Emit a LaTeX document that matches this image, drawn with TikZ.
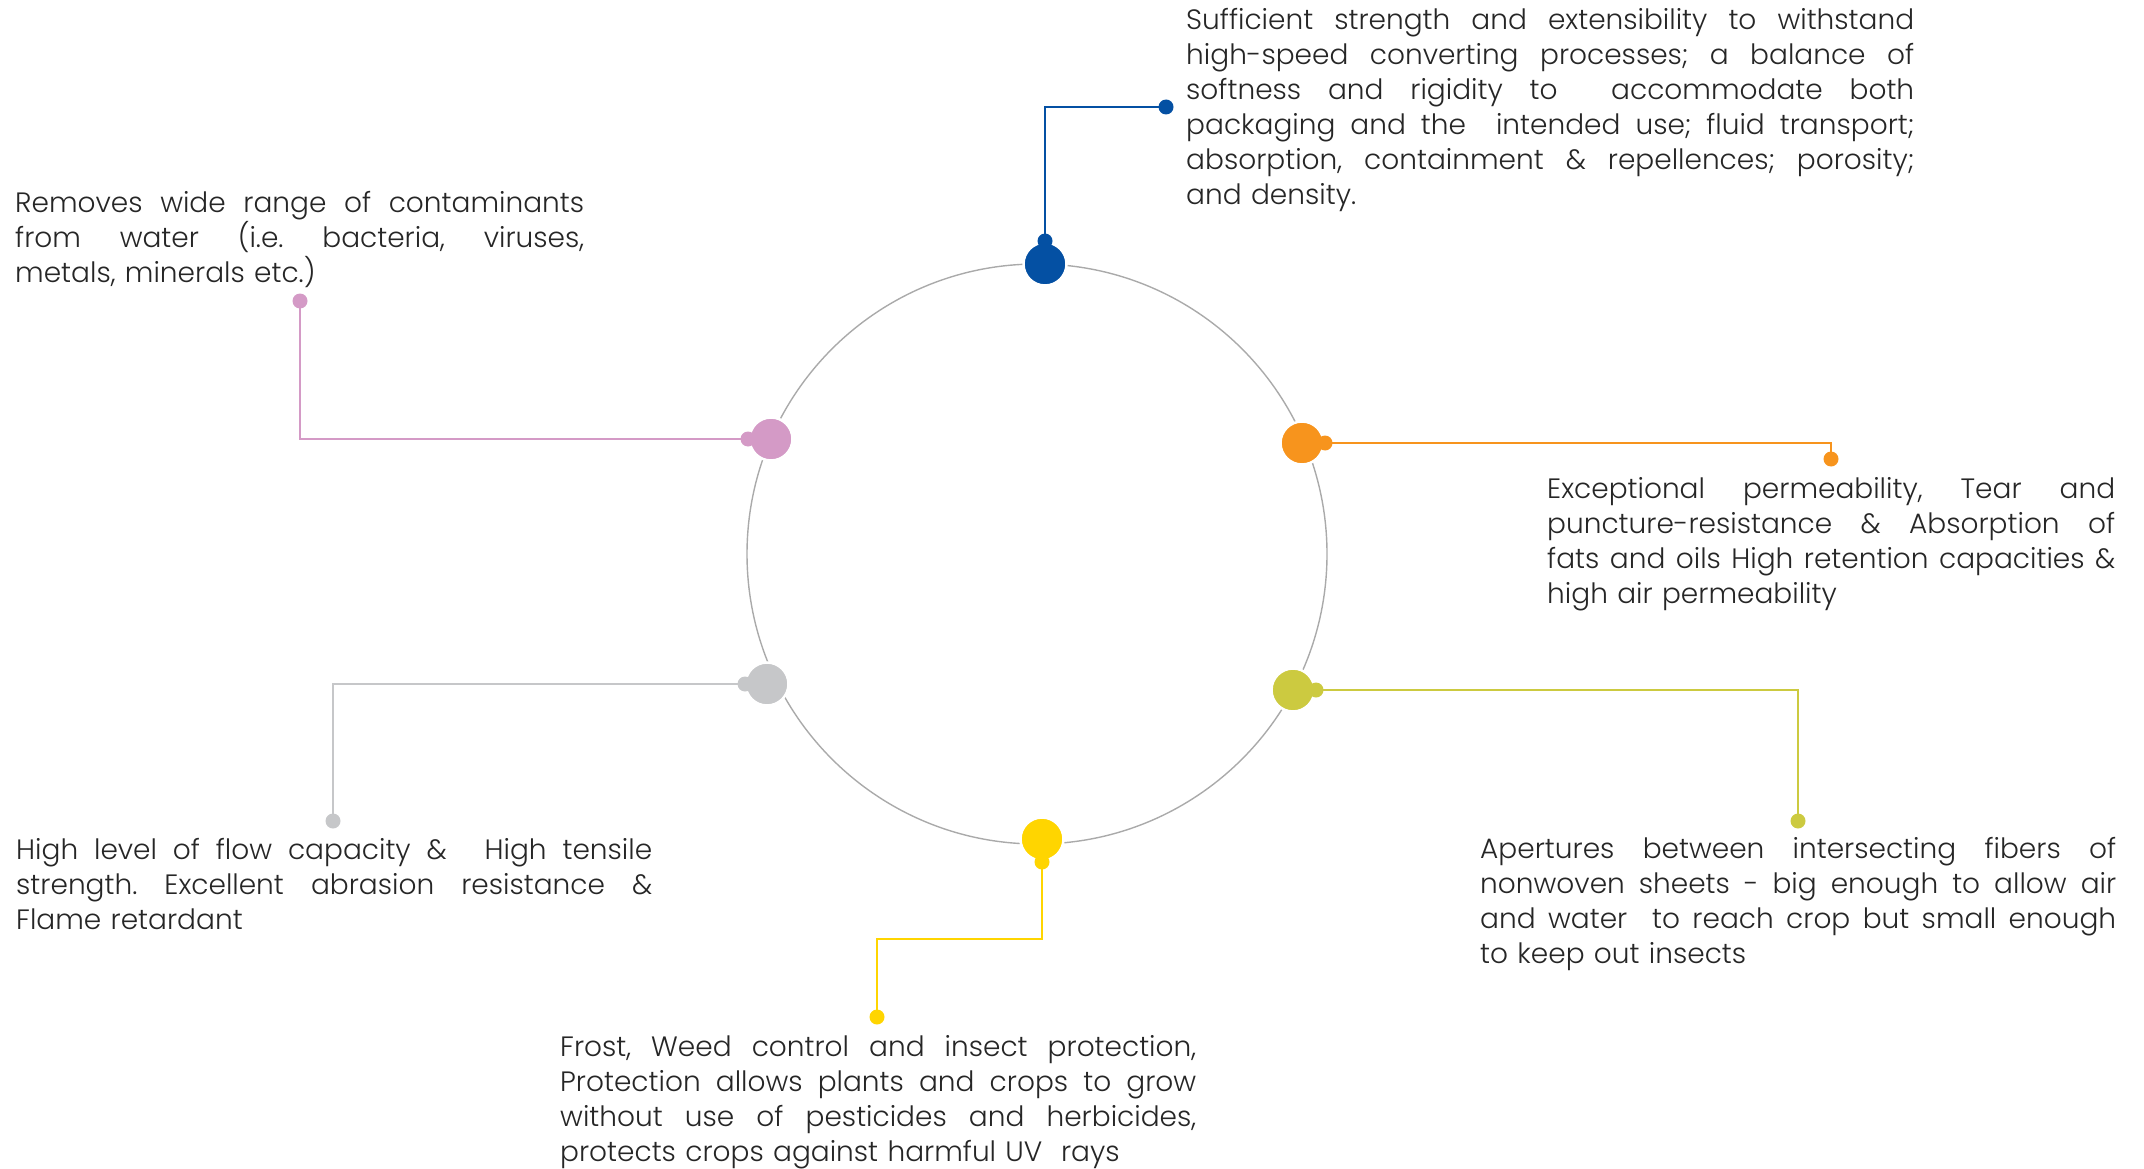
\documentclass[tikz,border=0pt]{standalone}
\usepackage{fontspec}
\setmainfont{Poppins}[UprightFont={* Light}]
\usetikzlibrary{backgrounds}
\definecolor{cblue}{HTML}{0450A3}
\definecolor{cpink}{HTML}{D49AC6}
\definecolor{corange}{HTML}{F7941D}
\definecolor{colive}{HTML}{CCCA40}
\definecolor{cyellow}{HTML}{FFD500}
\definecolor{cgray}{HTML}{C6C7C9}
\definecolor{cring}{HTML}{AAAAAA}
\definecolor{ctext}{HTML}{262626}
\frenchspacing
\newcommand\jl[1]{\makebox[\hsize][s]{\frenchspacing\spaceskip=0pt\xspaceskip=0pt #1}\\}
\tikzset{
  ring/.style={draw=cring, line width=1.4pt},
  bigdot/.style={circle, inner sep=0pt, minimum size=43pt, draw=white, line width=2.5pt},
  smalldot/.style={circle, inner sep=0pt, minimum size=15pt},
  enddot/.style={circle, inner sep=0pt, minimum size=15pt},
  conn/.style={line width=2.6pt},
  txt/.style={anchor=base west, inner sep=0pt, align=left, text=ctext,
    font=\fontsize{28pt}{35pt}\selectfont\frenchspacing},
}
\begin{document}
\begin{tikzpicture}[x=1pt,y=-1pt]
\useasboundingbox (0,0) rectangle (2144,1169);
% blue
\node[bigdot, fill=cblue] (b1) at (1045,264) {};
\node[smalldot, fill=cblue] (b2) at (1045,241) {};
\node[enddot, fill=cblue] (b3) at (1166,107) {};
% pink
\node[bigdot, fill=cpink] (p1) at (771,439) {};
\node[smalldot, fill=cpink] (p2) at (748,439) {};
\node[enddot, fill=cpink] (p3) at (300,301) {};
% orange
\node[bigdot, fill=corange] (o1) at (1302,443) {};
\node[smalldot, fill=corange] (o2) at (1325,443) {};
\node[enddot, fill=corange] (o3) at (1831,459) {};
% olive
\node[bigdot, fill=colive] (v1) at (1293,690) {};
\node[smalldot, fill=colive] (v2) at (1316,690) {};
\node[enddot, fill=colive] (v3) at (1798,821) {};
% yellow
\node[bigdot, fill=cyellow] (y1) at (1042,839) {};
\node[smalldot, fill=cyellow] (y2) at (1042,862) {};
\node[enddot, fill=cyellow] (y3) at (877,1017) {};
% gray
\node[bigdot, fill=cgray] (g1) at (767,684) {};
\node[smalldot, fill=cgray] (g2) at (745,684) {};
\node[enddot, fill=cgray] (g3) at (333,821) {};
\begin{pgfonlayer}{background}
\node[circle, ring, inner sep=0pt, minimum size=580pt] (ringc) at (1037,554) {};
\draw[conn, cblue] (b2.center) |- (b3.center);
\draw[conn, cpink] (p2.center) -| (p3.center);
\draw[conn, corange] (o2.center) -| (o3.center);
\draw[conn, colive] (v2.center) -| (v3.center);
\draw[conn, cyellow] (y2.center) -- ++(0,77) -| (y3.center);
\draw[conn, cgray] (g2.center) -| (g3.center);
\end{pgfonlayer}
% texts
\node[txt, text width=728pt] (tblue) at (1186,30) {%
\jl{Sufficient strength and extensibility to withstand}
\jl{high-speed converting processes; a balance of}
\jl{softness and rigidity to\ \ accommodate both}
\jl{packaging and the\ \ intended use; fluid transport;}
\jl{absorption, containment \& repellences; porosity;}
and density.};
\node[txt, text width=569pt] (tpink) at (15,213) {%
\jl{Removes wide range of contaminants}
\jl{from water (i.e. bacteria, viruses,}
metals, minerals etc.)};
\node[txt, text width=568pt] (torange) at (1547,498) {%
\jl{Exceptional permeability, Tear and}
\jl{puncture-resistance \& Absorption of}
\jl{fats and oils High retention capacities \&}
high air permeability};
\node[txt, text width=636pt] (tolive) at (1480,858) {%
\jl{Apertures between intersecting fibers of}
\jl{nonwoven sheets - big enough to allow air}
\jl{and water\ \ to reach crop but small enough}
to keep out insects};
\node[txt, text width=636pt] (tgray) at (16,859) {%
\jl{High level of flow capacity \&\hspace{22pt} High tensile}
\jl{strength. Excellent abrasion resistance \&}
Flame retardant};
\node[txt, text width=636pt] (tyellow) at (560,1056) {%
\jl{Frost, Weed control and insect protection,}
\jl{Protection allows plants and crops to grow}
\jl{without use of pesticides and herbicides,}
protects crops against harmful UV\ \ rays};
\end{tikzpicture}
\end{document}
